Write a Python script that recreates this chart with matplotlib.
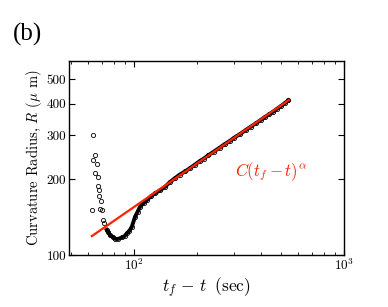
import numpy as np
import matplotlib
matplotlib.use("Agg")
import matplotlib.pyplot as plt
from matplotlib.ticker import FixedLocator, FixedFormatter, NullLocator, LogLocator

plt.rcParams['font.family'] = ['cmr10', 'DejaVu Serif']
plt.rcParams['mathtext.fontset'] = 'cm'
plt.rcParams['axes.formatter.use_mathtext'] = True

# ---------------------------------------------------------
# data (t_f - t in sec, R in micron)
# ---------------------------------------------------------
# early, scattered points just after pinch-off
t_early = [62.9, 64.0, 64.0, 65.2, 65.2, 66.4, 67.1, 67.1, 68.1, 68.1, 68.8, 69.4, 70.2, 71.4, 72.2]
R_early = [151, 300, 239, 251, 211, 230, 204, 188, 181, 171, 153, 164, 151, 138, 134]

# main curve (dense, forms a thick band)
t_main = [74.1, 75.5, 76.8, 79.0, 81.2, 84.0, 87.4, 90.0, 92.3, 95.0, 97.5,
          101.0, 104.0, 106.8, 111.0, 115.0, 120.0, 125.8, 133.0, 140.5, 148.0,
          156.3, 165.0, 175, 185, 195, 205, 215, 225, 240, 255, 270, 285, 300,
          320, 340, 360, 380, 400, 420, 440, 460, 480, 500, 520, 543]
R_main = [126, 123, 120, 118, 116, 116, 117.5, 119, 122, 125, 129.7,
          142, 149, 156, 161, 165.6, 171, 176, 181, 187, 195,
          202, 209, 215, 222, 229, 236, 242, 249, 258, 267, 276, 284, 293,
          303, 314, 324, 334, 344, 354, 363, 372, 382, 391, 401, 412]

# power-law fit C (t_f - t)^alpha, endpoints
t_fit = [62.9, 545]
R_fit = [119, 413]

fig = plt.figure(figsize=(3.88, 3.07), dpi=100)
ax = fig.add_axes([0.178, 0.169, 0.709, 0.632])

ax.plot(t_main, R_main, color='black', lw=2.8, zorder=2)
ax.plot(t_early + t_main, R_early + R_main, linestyle='none', marker='o',
        ms=3.0, mfc='none', mec='black', mew=0.6, zorder=3)
ax.plot(t_fit, R_fit, color='#ff2200', lw=1.6, zorder=4)

ax.set_xscale('log')
ax.set_yscale('log')
ax.set_xlim(49, 1000)
ax.set_ylim(100, 590)

ax.yaxis.set_major_locator(FixedLocator([100, 200, 300, 400, 500]))
ax.yaxis.set_major_formatter(FixedFormatter(['100', '200', '300', '400', '500']))
ax.yaxis.set_minor_locator(NullLocator())
ax.xaxis.set_major_locator(LogLocator(base=10))
ax.xaxis.set_minor_locator(LogLocator(base=10, subs=np.arange(2, 10)))

ax.tick_params(which='both', direction='in', top=True, right=True, labelsize=9.5, pad=2)
ax.tick_params(which='major', length=4, width=0.8)
ax.tick_params(which='minor', length=2, width=0.6)
for s in ax.spines.values():
    s.set_linewidth(1.0)

ax.set_xlabel(r'$t_f\,-\,t\;\;(\mathrm{sec})$', fontsize=12.5, labelpad=2)
ax.set_ylabel(r'Curvature Radius, $R$ ($\mu$ m)', fontsize=10.5, labelpad=2)

fig.text(271 / 388, 1 - 172 / 307, r'$C(t_f-t)^{\alpha}$', color='#ff2200',
         fontsize=12, ha='center', va='center')
fig.text(13 / 388, 1 - 34 / 307, '(b)', fontsize=18, family='Liberation Serif',
         ha='left', va='center')

fig.savefig('out.png', dpi=100)
